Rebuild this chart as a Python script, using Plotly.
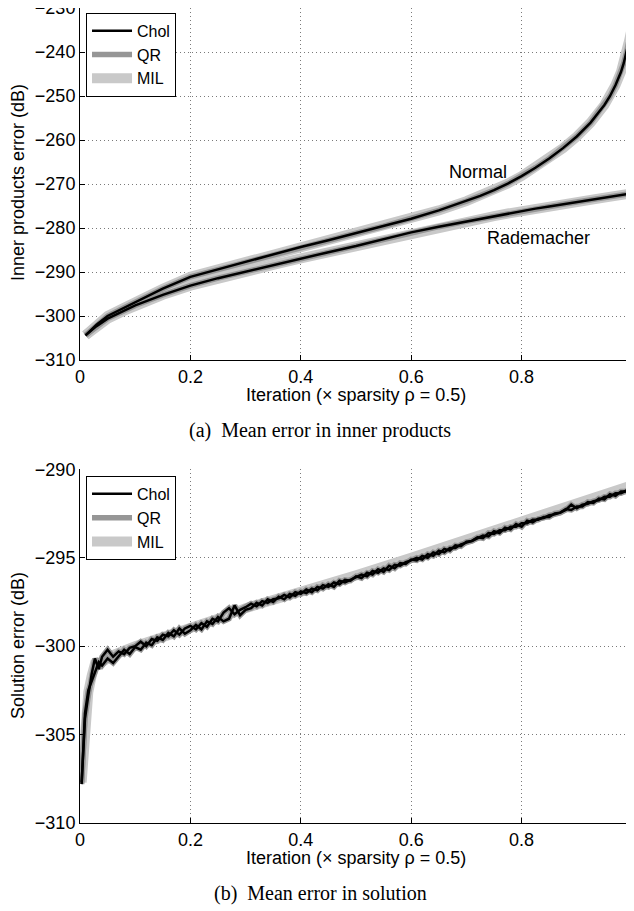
import plotly.graph_objects as go

# ---------------- data: (a) inner products ----------------
x_top = [0.01, 0.03, 0.05, 0.08, 0.10, 0.15, 0.20, 0.25, 0.30, 0.35, 0.40, 0.45,
         0.50, 0.55, 0.60, 0.65, 0.70, 0.725, 0.75, 0.775, 0.80, 0.825, 0.85,
         0.875, 0.90, 0.925, 0.95, 0.96, 0.97, 0.98, 0.985, 0.99, 0.995, 1.00]
normal_top = [-304.4, -302.0, -300.0, -298.1, -296.8, -293.8, -291.1, -289.4, -287.8,
              -286.0, -284.3, -282.8, -281.2, -279.6, -277.9, -276.0, -273.9, -272.7,
              -271.4, -269.9, -268.2, -266.3, -264.2, -261.85, -259.2, -256.05, -252.05,
              -250.05, -247.55, -244.55, -242.55, -240.05, -237.3, -234.3]
rade_top = [-304.4, -302.3, -300.6, -298.8, -297.6, -295.2, -293.1, -291.4, -289.9,
            -288.4, -286.9, -285.5, -284.1, -282.5, -281.0, -279.7, -278.5, -277.9,
            -277.3, -276.7, -276.1, -275.6, -275.1, -274.6, -274.1, -273.6, -273.1,
            -272.9, -272.7, -272.5, -272.4, -272.3, -272.2, -272.1]

# ---------------- data: (b) solution ----------------
x_bot = [0.003, 0.009, 0.015, 0.021, 0.027, 0.034] + [round(0.04 + 0.01 * i, 2) for i in range(97)]
normal_bot = [-307.7, -304.1, -302.8, -301.6, -300.7, -301.3,
              -300.6, -300.2, -300.6, -300.3, -300.45, -300.1, -300.0, -299.75, -300.0, -299.6,
              -299.7, -299.35, -299.45, -299.1, -299.35, -299.0, -298.85, -299.05, -298.7, -298.9,
              -298.45, -298.6, -298.1, -297.85, -298.2, -297.95, -297.8, -297.6, -297.75, -297.45,
              -297.55, -297.35, -297.3, -297.1, -297.25, -296.95, -297.05, -296.8, -296.95, -296.65,
              -296.75, -296.5, -296.65, -296.3, -296.4, -296.25, -296.1, -295.95, -296.05, -295.75,
              -295.85, -295.6, -295.7, -295.4, -295.45, -295.25, -295.15, -295.0, -295.1, -294.8,
              -294.9, -294.6, -294.7, -294.45, -294.45, -294.25, -294.15, -294.05, -293.85, -293.9,
              -293.6, -293.65, -293.45, -293.45, -293.25, -293.25, -293.05, -293.05, -292.85, -292.85,
              -292.7, -292.7, -292.5, -292.45, -292.3, -292.0, -292.2, -292.0, -291.95, -291.8,
              -291.75, -291.55, -291.55, -291.35, -291.35, -291.2, -291.1]
rade_bot = [-307.8, -303.8, -302.5, -302.0, -301.6, -300.9,
            -301.1, -300.7, -300.95, -300.55, -300.2, -300.45, -300.05, -300.2, -299.8, -299.95,
            -299.5, -299.65, -299.25, -299.45, -299.0, -299.3, -299.1, -298.8, -299.05, -298.6,
            -298.75, -298.35, -298.6, -298.45, -297.7, -298.25, -297.95, -297.85, -297.55, -297.7,
            -297.35, -297.5, -297.2, -297.35, -297.05, -297.15, -296.9, -297.0, -296.75, -296.85,
            -296.55, -296.65, -296.4, -296.5, -296.25, -296.3, -296.05, -296.15, -295.85, -295.95,
            -295.65, -295.8, -295.45, -295.6, -295.3, -295.35, -295.1, -295.15, -294.9, -295.0,
            -294.7, -294.8, -294.5, -294.6, -294.3, -294.35, -294.1, -294.05, -293.9, -293.75,
            -293.8, -293.5, -293.6, -293.3, -293.4, -293.1, -293.25, -292.9, -293.0, -292.8,
            -292.75, -292.6, -292.55, -292.45, -292.25, -292.3, -292.1, -292.1, -291.85, -291.9,
            -291.65, -291.7, -291.4, -291.5, -291.25, -291.25, -291.05]
x_mil_bot = [0.003, 0.009, 0.015, 0.021, 0.027, 0.04, 0.06, 0.10, 0.15, 0.20, 0.25, 0.30,
             0.40, 0.50, 0.60, 0.70, 0.80, 0.90, 1.00]
mil_bot = [-307.7, -304.0, -302.6, -301.7, -301.0, -300.9, -300.5, -300.0, -299.5, -298.95,
           -298.45, -297.85, -296.95, -296.0, -295.0, -293.95, -292.95, -291.9, -290.9]

colors = {"Chol": "#000000", "QR": "#969696", "MIL": "#c9c9c9"}
widths = {"Chol": 2.5, "QR": 5.5, "MIL": 10}
rank = {"Chol": 1, "QR": 2, "MIL": 3}

FONT = "Liberation Sans, Arial, sans-serif"
SERIF = "Liberation Serif, Times New Roman, serif"

fig = go.Figure()

# top panel: MIL below, then QR, then Chol on top
for m in ["MIL", "QR", "Chol"]:
    for i, ys in enumerate([normal_top, rade_top]):
        fig.add_trace(go.Scatter(
            x=x_top, y=ys, mode="lines", name=m,
            line=dict(color=colors[m], width=widths[m]),
            showlegend=(i == 0), legendrank=rank[m], legend="legend",
            xaxis="x", yaxis="y", hoverinfo="skip"))

# bottom panel
fig.add_trace(go.Scatter(
    x=x_mil_bot, y=mil_bot, mode="lines", name="MIL",
    line=dict(color=colors["MIL"], width=widths["MIL"]),
    showlegend=True, legendrank=rank["MIL"], legend="legend2",
    xaxis="x2", yaxis="y2", hoverinfo="skip"))
for m in ["QR", "Chol"]:
    for i, ys in enumerate([normal_bot, rade_bot]):
        fig.add_trace(go.Scatter(
            x=x_bot, y=ys, mode="lines", name=m,
            line=dict(color=colors[m], width=widths[m]),
            showlegend=(i == 0), legendrank=rank[m], legend="legend2",
            xaxis="x2", yaxis="y2", hoverinfo="skip"))

axstyle = dict(showgrid=True, gridcolor="#7a7a7a", gridwidth=1, griddash="1px,3px",
               zeroline=False, showline=True, linecolor="black", linewidth=1,
               ticks="inside", ticklen=5, tickcolor="black", tickwidth=1,
               automargin=False, ticklabeloverflow="allow",
               tickfont=dict(family=FONT, size=18, color="black"))

tfont = dict(family=FONT, size=18, color="black")
lfont = dict(family=FONT, size=16, color="black")
cfont = dict(family=SERIF, size=20, color="black")

# The page body adds an 8px offset, so the figure is sized to fit the window.
fig.update_layout(
    width=626, height=903,
    margin=dict(l=72, r=2, t=0, b=88),
    paper_bgcolor="white", plot_bgcolor="white",
    font=dict(family=FONT, size=18, color="black"),
    xaxis=dict(domain=[0, 1], range=[0, 1], tick0=0, dtick=0.2, anchor="y", **axstyle),
    yaxis=dict(domain=[0.5681, 1], range=[-310, -230], dtick=10, anchor="x", **axstyle),
    xaxis2=dict(domain=[0, 1], range=[0, 1], tick0=0, dtick=0.2, anchor="y2", **axstyle),
    yaxis2=dict(domain=[0, 0.4340], range=[-310, -290], dtick=5, anchor="x2", **axstyle),
    legend=dict(x=0.0109, y=0.9942, xanchor="left", yanchor="top",
                bgcolor="white", bordercolor="black", borderwidth=1,
                font=lfont, itemwidth=40, tracegroupgap=0),
    legend2=dict(x=0.0109, y=0.4258, xanchor="left", yanchor="top",
                 bgcolor="white", bordercolor="black", borderwidth=1,
                 font=lfont, itemwidth=40, tracegroupgap=0),
    annotations=[
        # axis titles
        dict(text="Inner products error (dB)", x=-0.1123, y=0.7853, xref="paper", yref="paper",
             textangle=-90, showarrow=False, xanchor="center", yanchor="middle", font=tfont),
        dict(text="Solution error (dB)", x=-0.1123, y=0.2172, xref="paper", yref="paper",
             textangle=-90, showarrow=False, xanchor="center", yanchor="middle", font=tfont),
        dict(text="Iteration (× sparsity ρ = 0.5)", x=0.5, y=0.5252, xref="paper", yref="paper",
             showarrow=False, xanchor="center", yanchor="middle", font=tfont),
        dict(text="Iteration (× sparsity ρ = 0.5)", x=0.5, y=-0.0429, xref="paper", yref="paper",
             showarrow=False, xanchor="center", yanchor="middle", font=tfont),
        # curve labels
        dict(text="Normal", x=0.7214, y=-267.25, xref="x", yref="y", showarrow=False,
             font=tfont),
        dict(text="Rademacher", x=0.830, y=-282.3, xref="x", yref="y", showarrow=False,
             font=tfont),
        # captions
        dict(text="(a)\u00a0 Mean error in inner products", x=0.4348, y=0.4822,
             xref="paper", yref="paper", showarrow=False, yanchor="middle", font=cfont),
        dict(text="(b)\u00a0 Mean error in solution", x=0.4348, y=-0.0859,
             xref="paper", yref="paper", showarrow=False, yanchor="middle", font=cfont),
    ],
)

fig.write_html("out.html")
